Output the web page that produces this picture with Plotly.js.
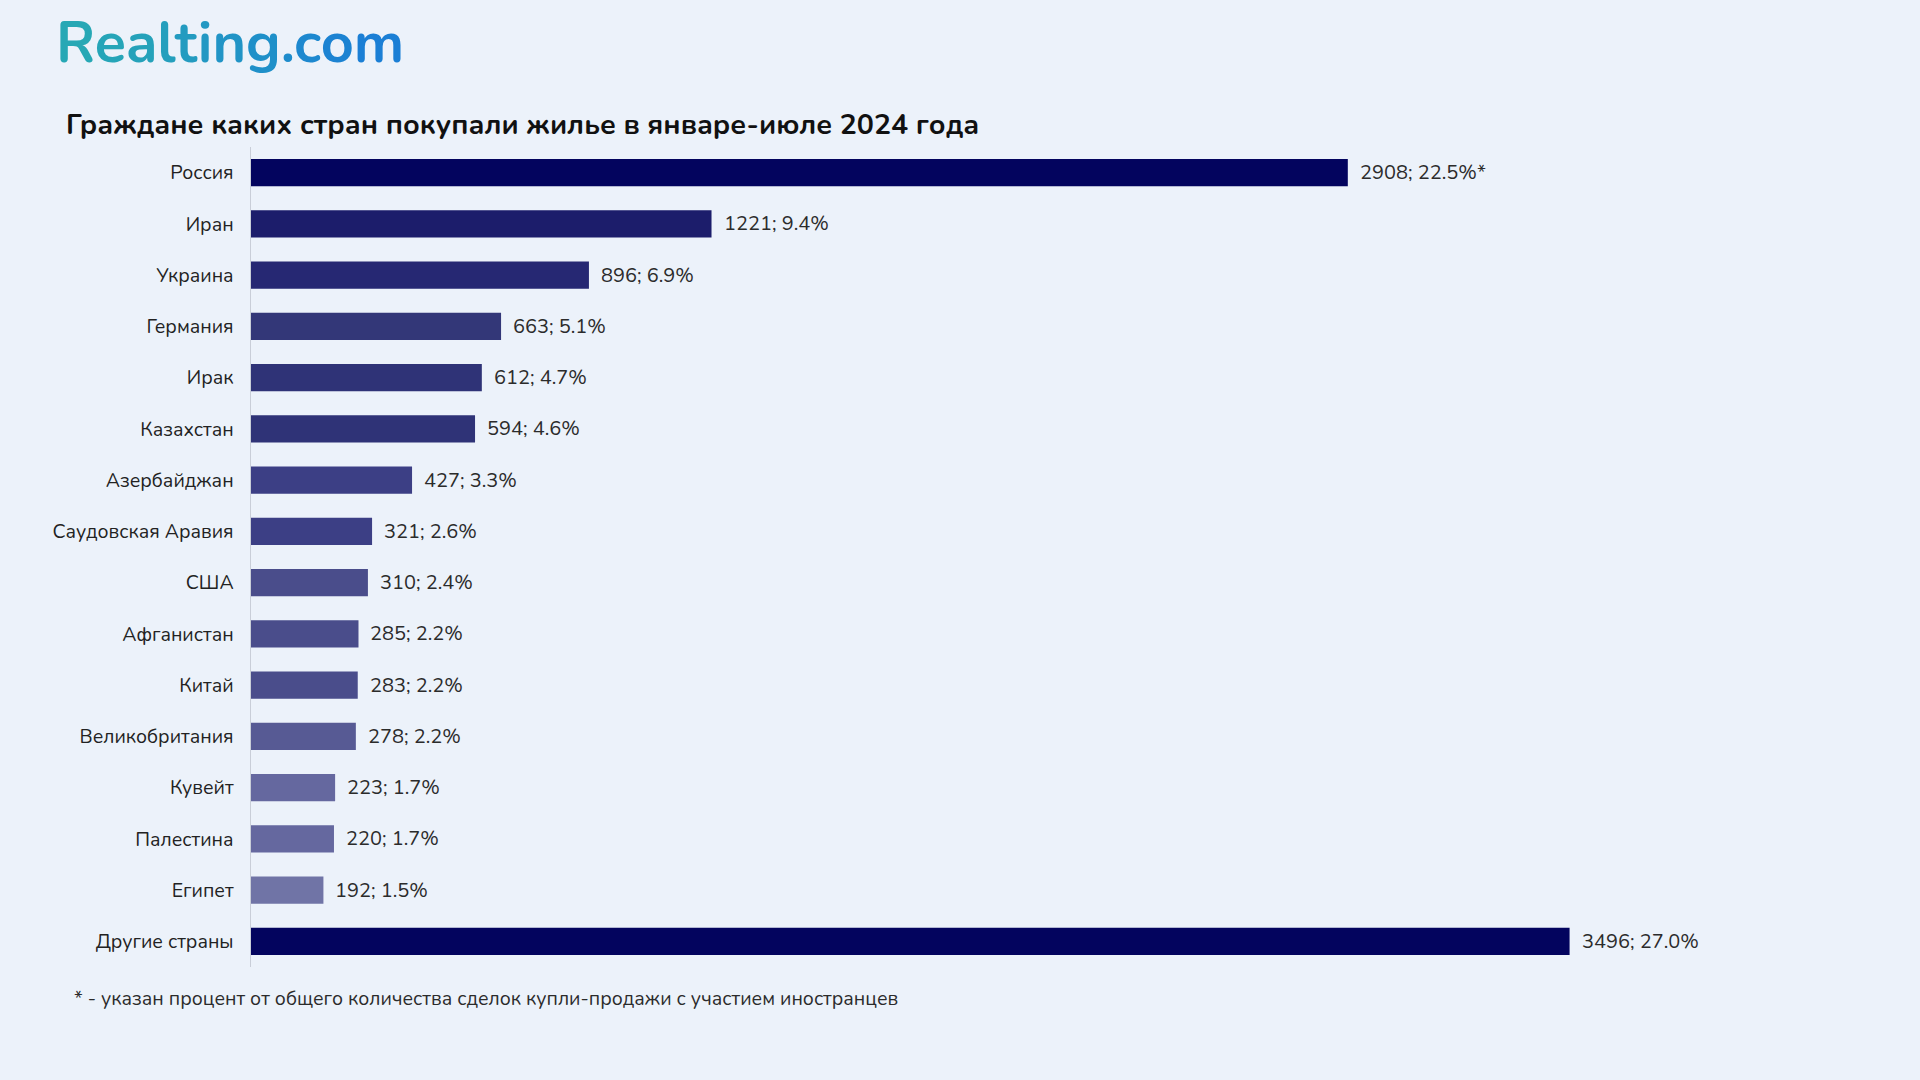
<!DOCTYPE html>
<html>
<head>
<meta charset="utf-8">
<script src="https://cdn.plot.ly/plotly-3.0.1.min.js"></script>
<style>
  html, body { margin: 0; padding: 0; background: #ecf2fa; }
  #chart { width: 1920px; height: 1080px; }
</style>
</head>
<body>
<div id="chart"></div>
<script>
const countries = ["Россия", "Иран", "Украина", "Германия", "Ирак", "Казахстан", "Азербайджан",
  "Саудовская Аравия", "США", "Афганистан", "Китай", "Великобритания", "Кувейт", "Палестина",
  "Египет", "Другие страны"];
const deals = [2908, 1221, 896, 663, 612, 594, 427, 321, 310, 285, 283, 278, 223, 220, 192, 3496];
const shares = ["22.5", "9.4", "6.9", "5.1", "4.7", "4.6", "3.3", "2.6", "2.4", "2.2", "2.2", "2.2", "1.7", "1.7", "1.5", "27.0"];
const notes = ["*", "", "", "", "", "", "", "", "", "", "", "", "", "", "", ""];
const barColors = ["#03045e", "#1c1d6b", "#262873", "#333778", "#2f3377", "#2f3377", "#3c3f85",
  "#3c3f85", "#4a4d8b", "#4a4d8b", "#4a4d8b", "#575a94", "#65689f", "#65689f", "#7074a6", "#03045e"];

const labelFont = "Nunito, Lato, 'Noto Sans', sans-serif";

const trace = {
  type: "bar",
  orientation: "h",
  x: deals,
  y: countries,
  width: 0.53,
  marker: { color: barColors, line: { width: 0 } },
  hoverinfo: "skip"
};

const valueAnnotations = countries.map((c, i) => ({
  x: deals[i], y: c, xref: "x", yref: "y",
  text: deals[i] + "; " + shares[i] + "%" + notes[i],
  showarrow: false, xanchor: "left", yanchor: "middle", xshift: 10,
  font: { family: labelFont, size: 20, color: "#2b2b2b" }
}));

const logoLetters = ["R","e","a","l","t","i","n","g",".","c","o","m"];
const logoColors = ["#27a8b5","#26a5b8","#25a2ba","#249fbd","#239bc0","#2298c3","#2194c6","#1f90c9","#1e8ccc","#1d88cf","#1c83d2","#1b7fd5"];
const logoText = logoLetters.map((l, i) => '<span style="color:' + logoColors[i] + '">' + l + '</span>').join("");

const layout = {
  width: 1920, height: 1080,
  paper_bgcolor: "#ecf2fa", plot_bgcolor: "#ecf2fa",
  margin: { l: 251, r: 169, t: 147, b: 113 },
  showlegend: false,
  bargap: 0.47,
  xaxis: {
    range: [0, 3977], showgrid: false, zeroline: false, showline: false,
    showticklabels: false, ticks: "", fixedrange: true
  },
  yaxis: {
    autorange: "reversed", showgrid: false, zeroline: false,
    showline: true, linecolor: "#c9ced8", linewidth: 1.5,
    ticks: "", ticklabelstandoff: 12,
    tickfont: { family: labelFont, size: 19.5, color: "#222222" }
  },
  annotations: [
    {
      text: "<b>" + logoText + "</b>", xref: "paper", yref: "paper",
      x: 0, y: 0, xanchor: "left", yanchor: "middle", showarrow: false,
      font: { family: labelFont, size: 57.5 },
      xshift: -251 + 54, yshift: 1080 - 113 - 43
    },
    {
      text: "<b>Граждане каких стран покупали жилье в январе-июле 2024 года</b>",
      xref: "paper", yref: "paper", x: 0, y: 0, xanchor: "left", yanchor: "middle",
      showarrow: false,
      font: { family: labelFont, size: 28.5, color: "#111111" },
      xshift: -251 + 64, yshift: 1080 - 113 - 124
    },
    {
      text: "* - указан процент от общего количества сделок купли-продажи с участием иностранцев",
      xref: "paper", yref: "paper", x: 0, y: 0, xanchor: "left", yanchor: "middle",
      showarrow: false,
      font: { family: labelFont, size: 19.5, color: "#2b2b2b" },
      xshift: -251 + 72, yshift: -(998 - 967)
    }
  ].concat(valueAnnotations)
};

Plotly.newPlot("chart", [trace], layout, { displayModeBar: false, staticPlot: true });
</script>
</body>
</html>
